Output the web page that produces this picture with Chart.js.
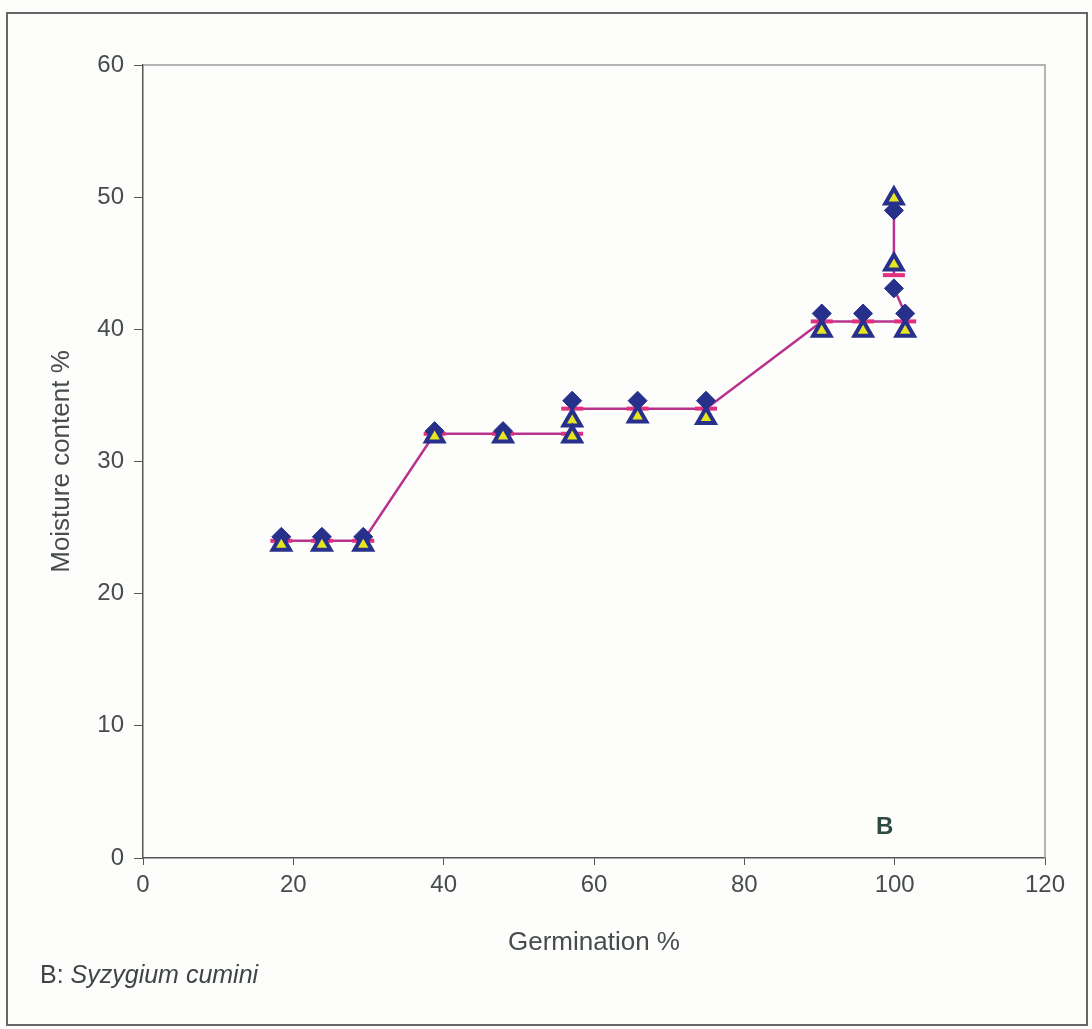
<!DOCTYPE html>
<html>
<head>
<meta charset="utf-8">
<script src="https://cdn.jsdelivr.net/npm/chart.js@4"></script>
<style>
  body { margin: 0; background: #fdfdfc; }
  #wrap { position: relative; width: 1092px; height: 1029px; }
  #frame { position: absolute; left: 6px; top: 12px; width: 1082px; height: 1014px; border: 2px solid #666; box-sizing: border-box; }
  .txt { position: absolute; font-family: "Liberation Sans", Arial, sans-serif; color: #3f4444; font-size: 25px; }
</style>
</head>
<body>
<div id="wrap">
  <canvas id="chart" width="1092" height="1029"></canvas>
  <div id="frame"></div>
  <div class="txt" style="left:876px; top:812px; font-size:24px; font-weight:bold; color:#2f4a40;">B</div>
  <div class="txt" style="left:40px; top:960px;">B: <i>Syzygium cumini</i></div>
</div>
<script>
// Germination % vs moisture content %
const germDiamond = [18.4, 23.8, 29.3, 38.8, 47.9, 57.1, 65.8, 74.9, 90.3, 95.8, 99.9, 99.9, 101.4];
const moistDiamond = [24.3, 24.3, 24.3, 32.3, 32.3, 34.6, 34.6, 34.6, 41.2, 41.2, 49.0, 43.1, 41.2];

const germTriangle = [18.4, 23.8, 29.3, 38.8, 47.9, 57.1, 57.1, 65.8, 74.9, 90.3, 95.8, 99.9, 99.9, 101.4];
const moistTriangle = [23.7, 23.7, 23.7, 31.9, 31.9, 33.1, 31.9, 33.4, 33.3, 39.9, 39.9, 49.9, 44.9, 39.9];

// fitted (mean) line, null breaks the path
const germLine = [18.4, 23.8, 29.3, 38.8, 47.9, 57.1, null, 57.1, 65.8, 74.9, 90.3, 95.8, 101.4, null, 99.9, 99.9, null, 99.9, 101.4];
const moistLine = [24.0, 24.0, 24.0, 32.1, 32.1, 32.1, null, 34.0, 34.0, 34.0, 40.6, 40.6, 40.6, null, 49.4, 44.1, null, 43.1, 41.2];
const lineBar = [1, 1, 1, 1, 1, 1, 0, 1, 1, 1, 1, 1, 1, 0, 0, 1, 0, 0, 0];

const xTicks = [0, 20, 40, 60, 80, 100, 120];
const yTicks = [0, 10, 20, 30, 40, 50, 60];

function pairs(xs, ys) {
  return xs.map((x, i) => (x === null ? { x: NaN, y: null } : { x: x, y: ys[i] }));
}

const navy = "#27308a";
const pink = "#b8338e";
const tickFont = { family: "Liberation Sans", size: 24 };
const titleFont = { family: "Liberation Sans", size: 26 };

const frameLines = {
  id: "frameLines",
  beforeDatasetsDraw(chart) {
    const a = chart.chartArea;
    const ctx = chart.ctx;
    ctx.save();
    ctx.strokeStyle = "#9a9a9a";
    ctx.lineWidth = 1.5;
    ctx.beginPath();
    ctx.moveTo(a.left, a.top);
    ctx.lineTo(a.right, a.top);
    ctx.lineTo(a.right, a.bottom);
    ctx.stroke();
    ctx.restore();
  }
};

new Chart(document.getElementById("chart"), {
  type: "scatter",
  data: {
    datasets: [
      {
        label: "mean",
        type: "line",
        data: pairs(germLine, moistLine),
        borderColor: pink,
        borderWidth: 2.5,
        spanGaps: false,
        pointStyle: "line",
        pointRadius: lineBar.map((b) => (b ? 11 : 0)),
        pointBorderWidth: 4,
        pointBorderColor: "#e0307f",
        order: 3
      },
      {
        label: "diamond",
        data: pairs(germDiamond, moistDiamond),
        pointStyle: "rectRot",
        pointRadius: 9.5,
        pointBackgroundColor: navy,
        pointBorderColor: navy,
        pointBorderWidth: 1,
        order: 2
      },
      {
        label: "triangle",
        data: pairs(germTriangle, moistTriangle),
        pointStyle: "triangle",
        pointRadius: 10,
        pointBackgroundColor: "#e6e61e",
        pointBorderColor: navy,
        pointBorderWidth: 4,
        order: 1
      }
    ]
  },
  options: {
    responsive: false,
    animation: false,
    layout: { padding: { top: 65, right: 47, left: 0, bottom: 0 } },
    plugins: { legend: { display: false }, tooltip: { enabled: false } },
    scales: {
      x: {
        type: "linear",
        min: 0,
        max: 120,
        afterBuildTicks: (s) => { s.ticks = xTicks.map((v) => ({ value: v })); },
        afterFit: (s) => { s.height = 171; },
        grid: { drawOnChartArea: false, drawTicks: true, tickLength: 7, color: "#555" },
        border: { color: "#555", width: 1.5 },
        ticks: { color: "#474c4c", font: tickFont, padding: 6 },
        title: { display: true, text: "Germination %", color: "#474c4c", font: titleFont, padding: { bottom: 71 } }
      },
      y: {
        min: 0,
        max: 60,
        afterBuildTicks: (s) => { s.ticks = yTicks.map((v) => ({ value: v })); },
        afterFit: (s) => { s.width = 143; },
        grid: { drawOnChartArea: false, drawTicks: true, tickLength: 9, color: "#555" },
        border: { color: "#555", width: 1.5 },
        ticks: { color: "#474c4c", font: tickFont, padding: 10 },
        title: { display: true, text: "Moisture content %", color: "#474c4c", font: titleFont, padding: { top: 46 } }
      }
    }
  },
  plugins: [frameLines]
});
</script>
</body>
</html>
